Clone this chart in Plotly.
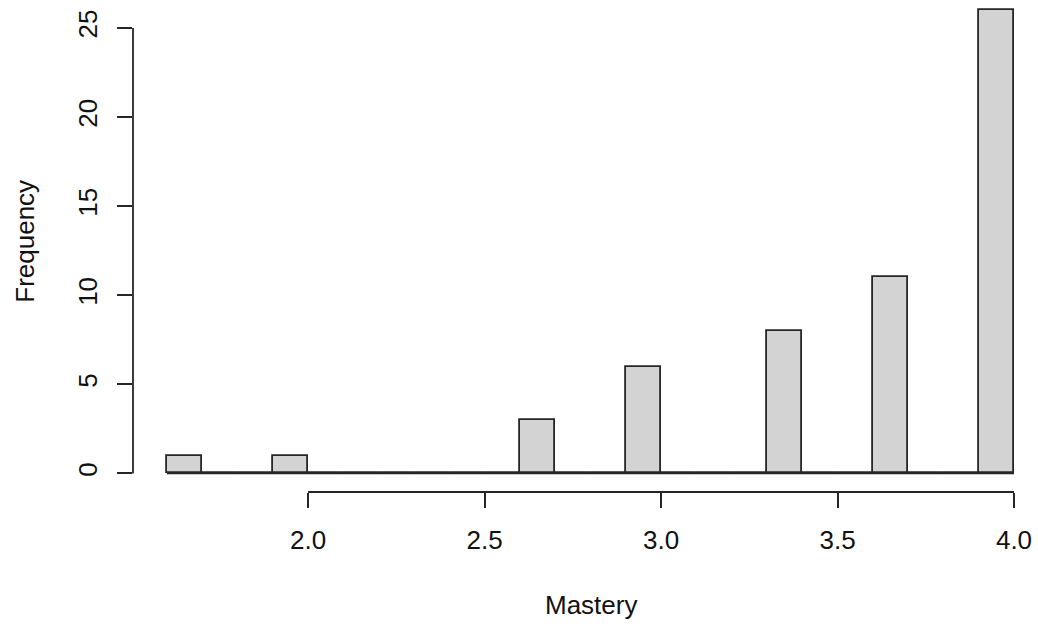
import plotly.graph_objects as go

bin_lefts = [round(1.6 + 0.1 * i, 1) for i in range(24)]
counts = [1, 0, 0, 1, 0, 0, 0, 0, 0, 0, 3, 0, 0, 6, 0, 0, 0, 8, 0, 0, 11, 0, 0, 26]
bin_width = 0.1
x_ticks = [2.0, 2.5, 3.0, 3.5, 4.0]
y_ticks = [0, 5, 10, 15, 20, 25]

centers = [b + bin_width / 2 for b in bin_lefts]
font = dict(family="Liberation Sans, Arial, Helvetica, sans-serif", size=26, color="#111111")
edge = "#262626"

fig = go.Figure(go.Bar(
    x=centers, y=counts, width=[bin_width] * len(counts),
    marker=dict(color="#D3D3D3", line=dict(color=edge, width=1.8)),
    hoverinfo="skip",
))

x_lo = bin_lefts[0] - 0.04 * (bin_lefts[-1] + bin_width - bin_lefts[0])
y_lo = -0.04 * max(counts)

shapes = [
    dict(type="line", xref="x", yref="y", x0=bin_lefts[0], x1=bin_lefts[-1] + bin_width,
         y0=0, y1=0, line=dict(color=edge, width=1.8)),
    dict(type="line", xref="x", yref="paper", x0=x_ticks[0], x1=x_ticks[-1], y0=0, y1=0,
         line=dict(color=edge, width=1.8)),
    dict(type="line", xref="paper", yref="y", x0=0, x1=0, y0=y_ticks[0], y1=y_ticks[-1],
         line=dict(color=edge, width=1.8)),
]

W, H = 1038, 626
L, B = 133, 133.5
PW, PH = W - L, H - B

fig.update_layout(
    width=W, height=H,
    margin=dict(l=L, r=0, t=0, b=B),
    plot_bgcolor="white", paper_bgcolor="white",
    showlegend=False, bargap=0,
    font=font,
    shapes=shapes,
    xaxis=dict(range=[x_lo, 4.068], tickvals=x_ticks, ticktext=[f"{v:.1f}" for v in x_ticks],
               ticks="outside", ticklen=15, tickwidth=1.8, tickcolor=edge,
               ticklabelstandoff=10, automargin=False,
               showgrid=False, zeroline=False, showline=False, tickfont=font),
    yaxis=dict(range=[y_lo, 26.57], tickvals=y_ticks, ticktext=[str(v) for v in y_ticks],
               ticks="outside", ticklen=15, tickwidth=1.8, tickcolor=edge,
               ticklabelstandoff=10, automargin=False,
               tickangle=-90, showgrid=False, zeroline=False, showline=False, tickfont=font),
    annotations=[
        dict(text="Mastery", xref="paper", yref="paper", x=(591 - L) / PW, y=-(606 - 492.5) / PH,
             xanchor="center", yanchor="middle", showarrow=False, font=font),
        dict(text="Frequency", xref="paper", yref="paper", x=-(L - 25) / PW, y=(492.5 - 242) / PH,
             xanchor="center", yanchor="middle", showarrow=False, textangle=-90, font=font),
    ],
)

fig.write_html(
    "out.html",
    config={"displayModeBar": False},
    post_script="document.body.style.margin='0';document.body.style.overflow='hidden';",
)
